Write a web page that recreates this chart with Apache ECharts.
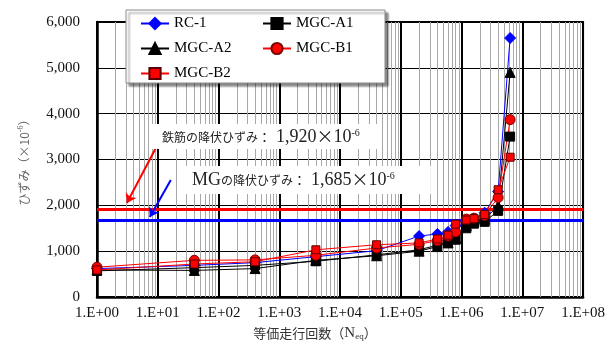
<!DOCTYPE html>
<html><head><meta charset="utf-8">
<script src="https://cdn.jsdelivr.net/npm/echarts@6/dist/echarts.min.js"></script>
<style>html,body{margin:0;padding:0;background:#fff}#c{width:608px;height:344px}</style>
</head><body><div id="c"></div>
<script>
// ---- data ----
const cycles = [1, 40, 400, 4000, 40000, 200000, 400000, 600000, 800000, 1200000, 1600000, 2400000, 4000000, 6300000];
const rc1   = [620, 690, 750, 880, 1010, 1330, 1375, 1420, 1560, 1680, 1700, 1840, 2300, 5650];
const mgcA1 = [570, 640, 690, 780, 920, 1030, 1130, 1200, 1250, 1500, 1600, 1640, 1880, 3500];
const mgcA2 = [590, 580, 620, 800, 900, 1000, 1100, 1180, 1280, 1560, 1650, 1700, 1990, 4900];
const mgcB1 = [650, 800, 810, 910, 1070, 1150, 1230, 1330, 1420, 1700, 1720, 1780, 2170, 3870];
const mgcB2 = [590, 720, 770, 1030, 1140, 1180, 1265, 1350, 1590, 1680, 1710, 1800, 2340, 3050];
const seriesNames = ['RC-1', 'MGC-A1', 'MGC-A2', 'MGC-B1', 'MGC-B2'];
const legendCol1 = ['RC-1', 'MGC-A2', 'MGC-B2'];
const legendCol2 = ['MGC-A1', 'MGC-B1'];
const yieldRebar = 1920;
const yieldMG = 1685;
const yTicks = [0, 1000, 2000, 3000, 4000, 5000, 6000];
const xMin = 1, xMax = 1e8;
// annotation arrows (data coords: [N, strain])
const arrowRed = [[9.3, 3250], [3.1, 2050]];
const arrowBlue = [[16.4, 2555], [7.4, 1745]];
// minor log grid lines at 2..9 x 10^k
const minorGrid = [];
for (let k = 0; k < 8; k++) for (let m = 2; m <= 9; m++) minorGrid.push(m * Math.pow(10, k));

const serif = '"Liberation Serif", "Times New Roman", serif';
const jp = '"Noto Sans CJK JP", sans-serif';

const styles = [
  { color: '#0000ff', symbol: 'diamond', size: 11, border: '#0000ff' },
  { color: '#000000', symbol: 'rect', size: 9, border: '#000000' },
  { color: '#000000', symbol: 'triangle', size: 10, border: '#000000' },
  { color: '#ff0000', symbol: 'circle', size: 10, border: '#7a0000' },
  { color: '#ff0000', symbol: 'rect', size: 8, border: '#5a0000' }
];
const values = [rc1, mgcA1, mgcA2, mgcB1, mgcB2];

const dataSeries = values.map((vals, i) => ({
  name: seriesNames[i],
  type: 'line',
  z: 5,
  data: cycles.map((c, j) => [c, vals[j]]),
  symbol: styles[i].symbol,
  symbolSize: styles[i].size,
  lineStyle: { color: styles[i].color, width: 1 },
  itemStyle: { color: styles[i].color, borderColor: styles[i].border, borderWidth: 1 },
  emphasis: { disabled: true }
}));

const legendBase = {
  orient: 'vertical', top: 16,
  itemWidth: 28, itemHeight: 14, itemGap: 10,
  padding: 0,
  z: 20,
  textStyle: { fontFamily: serif, fontSize: 15, color: '#000' },
  selectedMode: false
};

const annRich = {
  j: { fontFamily: jp, fontSize: 12, fill: '#222', lineHeight: 18 },
  c: { fontFamily: jp, fontSize: 13, fill: '#222', lineHeight: 18, padding: [0, 5, 0, 0] },
  n: { fontFamily: serif, fontSize: 18, fill: '#222', lineHeight: 18 },
  x: { fontFamily: jp, fontSize: 17, fill: '#222', lineHeight: 18 },
  s: { fontFamily: serif, fontSize: 10, fill: '#222', lineHeight: 10, verticalAlign: 'top' }
};

const chart = echarts.init(document.getElementById('c'), null, { renderer: 'canvas' });
chart.setOption({
  animation: false,
  backgroundColor: '#fff',
  grid: { left: 97, right: 23, top: 22, bottom: 47, show: true, borderColor: '#000', borderWidth: 2, backgroundColor: 'transparent' },
  legend: [
    Object.assign({}, legendBase, { data: legendCol1, left: 140 }),
    Object.assign({}, legendBase, { data: legendCol2, left: 262 })
  ],
  xAxis: {
    type: 'log', logBase: 10, min: xMin, max: xMax,
    axisLine: { show: true, lineStyle: { color: '#000', width: 2.5 } },
    axisTick: { show: false },
    splitLine: { show: true, lineStyle: { color: '#000', width: 2 } },
    axisLabel: {
      fontFamily: serif, fontSize: 15, color: '#111', margin: 9,
      formatter: v => { const e = Math.round(Math.log10(v)); return '1.E+' + (e < 10 ? '0' + e : e); }
    }
  },
  yAxis: {
    type: 'value', min: yTicks[0], max: yTicks[yTicks.length - 1], interval: 1000,
    axisLine: { show: true, lineStyle: { color: '#000', width: 2.5 } },
    axisTick: { show: false },
    splitLine: { show: true, lineStyle: { color: '#000', width: 1 } },
    axisLabel: {
      fontFamily: serif, fontSize: 15, color: '#111', margin: 17,
      formatter: v => v.toLocaleString('en-US')
    },
    name: '{j|ひずみ（×10}{s|-6}{j|）}',
    nameLocation: 'middle', nameGap: 66, nameRotate: 90,
    nameTextStyle: {
      color: '#666', padding: [0, 0, 0, 0],
      rich: {
        j: { fontFamily: jp, fontSize: 12, color: '#666', lineHeight: 14 },
        s: { fontFamily: serif, fontSize: 8, color: '#666', verticalAlign: 'top', lineHeight: 8 }
      }
    }
  },
  series: [
    {
      name: 'minorGrid', type: 'line', data: [], z: 1, silent: true,
      markLine: {
        silent: true, symbol: 'none', label: { show: false },
        lineStyle: { color: '#a8a8a8', width: 1, type: 'solid' },
        emphasis: { disabled: true },
        data: minorGrid.map(v => ({ xAxis: v }))
      }
    },
    {
      name: 'yieldLines', type: 'line', data: [], z: 3, silent: true,
      markLine: {
        silent: true, symbol: 'none', label: { show: false },
        emphasis: { disabled: true },
        data: [
          { yAxis: yieldMG, lineStyle: { color: '#0000ff', width: 3, type: 'solid' } },
          { yAxis: yieldRebar, lineStyle: { color: '#ff0000', width: 3, type: 'solid' } },
          [{ coord: arrowRed[0], symbol: 'none' }, { coord: arrowRed[1], symbol: 'arrow', symbolSize: 9, lineStyle: { color: '#ff0000', width: 2, type: 'solid' } }],
          [{ coord: arrowBlue[0], symbol: 'none' }, { coord: arrowBlue[1], symbol: 'arrow', symbolSize: 9, lineStyle: { color: '#0000ff', width: 2, type: 'solid' } }]
        ]
      }
    },
    ...dataSeries
  ],
  graphic: [
    {
      type: 'rect', z: 15, silent: true,
      shape: { x: 126, y: 10, width: 259, height: 73 },
      style: { fill: '#fff', stroke: '#8a8a8a', lineWidth: 1, shadowColor: 'rgba(0,0,0,0.45)', shadowBlur: 2, shadowOffsetX: 3, shadowOffsetY: 3 }
    },
    {
      type: 'text', x: 152, y: 124, z: 10, silent: true,
      style: {
        text: '{j|鉄筋の降伏ひずみ}{c|：}{n|1,920}{x|×}{n|10}{s|-6}',
        backgroundColor: '#fff',
        padding: [4, 22, 3, 10],
        rich: annRich
      }
    },
    {
      type: 'text', x: 184, y: 166, z: 10, silent: true,
      style: {
        text: '{n|MG}{j|の降伏ひずみ}{c|：}{n|1,685}{x|×}{n|10}{s|-6}',
        backgroundColor: '#fff',
        padding: [5, 36, 5, 8],
        rich: annRich
      }
    },
    {
      type: 'text', x: 315, y: 333, z: 10, silent: true,
      style: {
        text: '{j|等価走行回数（}{n|N}{b|eq}{j|）}',
        textAlign: 'center', textVerticalAlign: 'middle',
        rich: {
          j: { fontFamily: jp, fontSize: 13, fill: '#333', lineHeight: 16 },
          n: { fontFamily: serif, fontSize: 15, fill: '#333', lineHeight: 16 },
          b: { fontFamily: serif, fontSize: 9, fill: '#333', lineHeight: 9, verticalAlign: 'bottom' }
        }
      }
    }
  ]
});
</script>
</body></html>
